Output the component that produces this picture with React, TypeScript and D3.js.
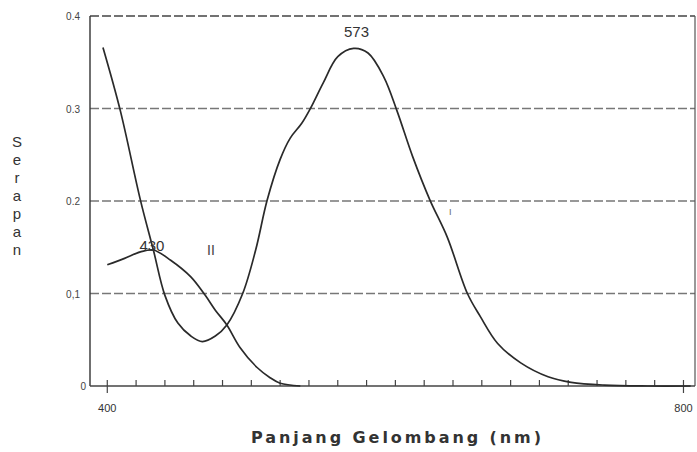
import * as d3 from "d3";

// Spektrum serapan: kurva I (kompleks, puncak 573) dan kurva II (puncak 430)
const waveI = [397, 409, 423, 432, 440, 449, 458, 466, 475, 483, 494, 503, 511, 520, 527, 535, 541, 550, 560, 571, 581, 592, 601, 612, 624, 636, 650, 659, 671, 687, 706, 722, 745, 775, 805];
const absI = [0.366, 0.298, 0.201, 0.147, 0.098, 0.068, 0.054, 0.048, 0.054, 0.066, 0.1, 0.147, 0.201, 0.245, 0.268, 0.284, 0.3, 0.328, 0.356, 0.365, 0.36, 0.334, 0.298, 0.248, 0.201, 0.161, 0.1, 0.075, 0.046, 0.025, 0.01, 0.004, 0.001, 0.0, 0.0];

const waveII = [400, 412, 423, 432, 444, 458, 468, 475, 483, 492, 504, 513, 520, 534];
const absII = [0.131, 0.138, 0.145, 0.147, 0.136, 0.118, 0.098, 0.082, 0.066, 0.042, 0.02, 0.009, 0.003, 0.0];

const yTicks = [0, 0.1, 0.2, 0.3, 0.4];
const yTickLabels = ["0", "0,1", "0.2", "0.3", "0.4"];
const xLabelTicks = [400, 800];
const yTitle = "Serapan".split("");

const W = 697, H = 452;
const FONT = "'Liberation Sans', Arial, sans-serif";

export default function App() {
  const x = d3.scaleLinear().domain([388, 808]).range([90, 695]);
  const y = d3.scaleLinear().domain([0, 0.4]).range([386, 16]);

  const line = d3.line<[number, number]>()
    .x(d => x(d[0]))
    .y(d => y(d[1]))
    .curve(d3.curveCatmullRom.alpha(0.5));

  const ptsI = waveI.map((w, i) => [w, absI[i]] as [number, number]);
  const ptsII = waveII.map((w, i) => [w, absII[i]] as [number, number]);
  const minorX = d3.range(400, 801, 20);

  return (
    <svg width={W} height={H} style={{ position: "absolute", left: 0, top: 0, background: "#fff" }}>
      {/* grid lines */}
      {yTicks.filter(t => t > 0).map(t => (
        <line key={t} x1={x(388)} x2={x(808)} y1={y(t)} y2={y(t)}
          stroke={t === 0.4 ? "#444" : "#777"} strokeWidth={1.3} strokeDasharray="9 3" />
      ))}
      {/* axes */}
      <line x1={x(388)} x2={x(388)} y1={y(0.4)} y2={y(0)} stroke="#333" strokeWidth={1.4} />
      <line x1={x(808)} x2={x(808)} y1={y(0.4)} y2={y(0)} stroke="#555" strokeWidth={1.2} />
      <line x1={x(388)} x2={x(808)} y1={y(0)} y2={y(0)} stroke="#444" strokeWidth={1.4} />
      {minorX.map(t => (
        <line key={t} x1={x(t)} x2={x(t)} y1={y(0) - 6} y2={y(0) + (t === 400 || t === 800 ? 7 : 0)}
          stroke="#444" strokeWidth={1.2} />
      ))}
      {/* tick labels */}
      {yTicks.map((t, i) => (
        <text key={t} x={t === 0 ? 86 : 80} y={y(t) + 4} textAnchor="end" fontFamily={FONT}
          fontSize={10} fill="#444">{yTickLabels[i]}</text>
      ))}
      {xLabelTicks.map(t => (
        <text key={t} x={x(t)} y={y(0) + 26} textAnchor="middle" fontFamily={FONT}
          fontSize={11} fill="#333">{t}</text>
      ))}
      {/* curves */}
      <path d={line(ptsI) || ""} fill="none" stroke="#2a2a2a" strokeWidth={1.7} />
      <path d={line(ptsII) || ""} fill="none" stroke="#2a2a2a" strokeWidth={1.7} />
      {/* annotations */}
      <text x={x(573)} y={y(0.365) - 11} textAnchor="middle" fontFamily={FONT} fontSize={15} fill="#333">573</text>
      <text x={x(431)} y={y(0.147) + 1} textAnchor="middle" fontFamily={FONT} fontSize={15} fill="#333">430</text>
      <text x={x(472)} y={y(0.147) + 5} textAnchor="middle" fontFamily={FONT} fontSize={14} fill="#444">II</text>
      <text x={x(636) + 3} y={y(0.185)} textAnchor="middle" fontFamily={FONT} fontSize={9} fill="#666">I</text>
      {/* axis titles */}
      {yTitle.map((c, i) => (
        <text key={i} x={17} y={147 + i * 18} textAnchor="middle" fontFamily={FONT}
          fontSize={15} fill="#333">{c}</text>
      ))}
      <text x={396} y={443} textAnchor="middle" fontFamily="'DejaVu Sans', sans-serif" fontSize={16}
        fontWeight="bold" fill="#333" textLength={290} lengthAdjust="spacing">Panjang Gelombang (nm)</text>
    </svg>
  );
}
